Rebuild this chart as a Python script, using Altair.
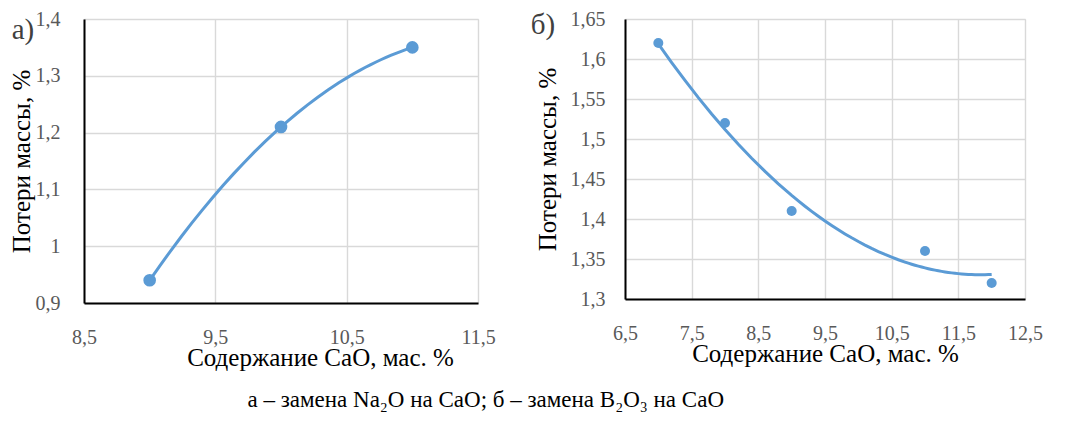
import altair as alt
import pandas as pd

# Panel a data
xa = [9, 10, 11]
ya = [0.94, 1.21, 1.35]
# Panel b data
xb = [7, 8, 9, 11, 12]
yb = [1.62, 1.52, 1.41, 1.36, 1.32]

xa_ticks = [8.5, 9.5, 10.5, 11.5]
ya_ticks = [0.9, 1.0, 1.1, 1.2, 1.3, 1.4]
xb_ticks = [6.5, 7.5, 8.5, 9.5, 10.5, 11.5, 12.5]
yb_ticks = [1.3, 1.35, 1.4, 1.45, 1.5, 1.55, 1.6, 1.65]

x_title = "Содержание CaO, мас. %"
y_title = "Потери массы, %"
caption = "а – замена Na₂O на CaO; б – замена B₂O₃ на CaO"

FONT = "'Liberation Serif', 'Times New Roman', 'DejaVu Serif', serif"
BLUE = "#5B9BD5"
LABEL_EXPR = "replace(format(datum.value, '~g'), '.', ',')"


def axis(values, label_pad, title_pad, title_x=None):
    kw = dict(
        values=values, grid=True, gridColor="#D9D9D9", gridWidth=1.4,
        domainColor="black", domainWidth=2, ticks=False,
        labelFont=FONT, labelFontSize=20, labelColor="#595959",
        labelPadding=label_pad, labelExpr=LABEL_EXPR, labelFlush=False,
        titleFont=FONT, titleFontSize=25, titleFontWeight="normal",
        titleColor="black", titlePadding=title_pad,
    )
    if title_x is not None:
        kw["titleX"] = title_x
        kw["titleAlign"] = "center"
    return alt.Axis(**kw)


def panel(xs, ys, xdom, ydom, xt, yt, extent, size, w, h, tag, tag_x, tag_y,
          ylab_pad, ytitle_pad, title_x=None):
    df = pd.DataFrame({"x": xs, "y": ys})
    base = alt.Chart(df)
    xenc = alt.X("x:Q", scale=alt.Scale(domain=xdom, nice=False, zero=False),
                 axis=axis(xt, 24, -2, title_x), title=x_title)
    yenc = alt.Y("y:Q", scale=alt.Scale(domain=ydom, nice=False, zero=False),
                 axis=axis(yt, ylab_pad, ytitle_pad), title=y_title)
    line = base.transform_regression(
        "x", "y", method="poly", order=2, extent=extent
    ).mark_line(color=BLUE, strokeWidth=3).encode(x=xenc, y=yenc)
    pts = base.mark_circle(color=BLUE, opacity=1, size=size).encode(x=xenc, y=yenc)
    lab = alt.Chart(pd.DataFrame({"t": [tag]})).mark_text(
        font=FONT, fontSize=29, color="#404040", align="center", baseline="middle"
    ).encode(text="t:N", x=alt.value(tag_x), y=alt.value(tag_y))
    return alt.layer(line, pts, lab).properties(width=w, height=h)


pa = panel(xa, ya, [8.5, 11.5], [0.9, 1.4], xa_ticks, ya_ticks, [9, 11], 160,
           394, 284, "а)", -61, 11, 24, 1, title_x=236)
pb = panel(xb, yb, [6.5, 12.5], [1.3, 1.65], xb_ticks, yb_ticks, [7, 12], 100,
           400, 280, "б)", -82, 6, 20, 10)

chart = alt.hconcat(pa, pb, spacing=34).properties(
    padding=0,
    title=alt.TitleParams(
        text=caption, orient="bottom", anchor="middle", font=FONT,
        fontSize=23, fontWeight="normal", color="black", offset=18, dx=-40,
    )
).configure_view(stroke=None).configure(background="white")

chart.save("out.html", embed_options={"renderer": "svg", "actions": False})
